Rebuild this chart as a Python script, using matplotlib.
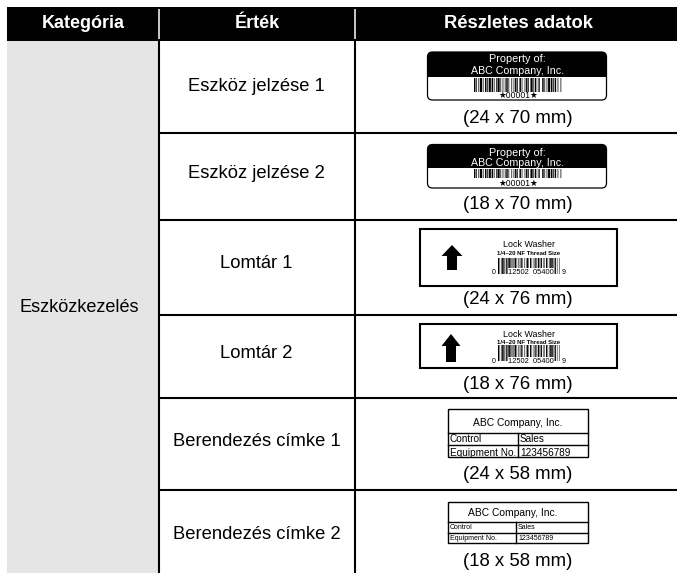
import matplotlib
matplotlib.use("Agg")
import matplotlib.pyplot as plt
from matplotlib.patches import Rectangle, FancyBboxPatch, Polygon

plt.rcParams['font.family'] = ['Liberation Sans', 'DejaVu Sans']

W, H = 677, 573
headers = ["Kategória", "Érték", "Részletes adatok"]
category = "Eszközkezelés"
values = ["Eszköz jelzése 1", "Eszköz jelzése 2", "Lomtár 1", "Lomtár 2",
          "Berendezés címke 1", "Berendezés címke 2"]
sizes = ["(24 x 70 mm)", "(18 x 70 mm)", "(24 x 76 mm)", "(18 x 76 mm)",
         "(24 x 58 mm)", "(18 x 58 mm)"]
bars_a = [2,1,1,2,1,1,3,1,1,2,2,1,1,1,3,1,2,1,1,2,1,1,3,1,1,2,1,2,1,1,2,1,1,3,1,2,1,1,2,1,
          1,2,2,1,1,3,1,1,2,1,1,2,3,1,1,1,2,2,1,1,1,3,2,1,1,2,1,1,3,1,2,1,1,1,2,2,1,3,1,1]

fig = plt.figure(figsize=(W/100, H/100), dpi=100)
ax = fig.add_axes([0, 0, 1, 1])
ax.set_xlim(0, W); ax.set_ylim(H, 0); ax.axis("off")

X0, X1, X2, X3 = 7, 159, 355, 677
rows = [41, 133, 220, 315, 398, 490, 573]

def rect(x, y, w, h, fc="k", ec="none", lw=0, z=2, snap=None):
    p = Rectangle((x, y), w, h, fc=fc, ec=ec, lw=lw, zorder=z)
    if snap is not None:
        p.set_snap(snap)
    ax.add_patch(p)
    return p

def txt(x, y, s, size, color="k", weight="normal", ha="center", z=7, **kw):
    dy = 1.5 if size >= 10 else 0.5
    ax.text(x, y + dy, s, fontsize=size, color=color, fontweight=weight, ha=ha, va="center", zorder=z, **kw)

rect(X0, 7, X3-X0, 34)
rect(X0, 41, X1-X0, H-41, fc="#e5e5e5")
for x in (X1, X2):
    ax.plot([x, x], [9, 38.5], color="w", lw=1.1, zorder=3, solid_capstyle="butt")
    ax.plot([x, x], [41, H], color="k", lw=1.5, zorder=3, solid_capstyle="butt")
for y in rows[1:-1]:
    ax.plot([X1, X3], [y, y], color="k", lw=1.5, solid_capstyle="butt", zorder=3)

txt(83, 21.5, headers[0], 13, "w", "bold")
txt(257, 21.5, headers[1], 13, "w", "bold")
txt(518, 21.5, headers[2], 13.2, "w", "bold")
txt(79, 306, category, 13.1)

value_y = [85, 172, 262, 352, 440, 533]
for y, v in zip(value_y, values):
    txt(256.5, y, v, 13.2)

size_y = [117, 203, 298, 383, 473, 560]
for y, s in zip(size_y, sizes):
    txt(518, y, s, 13.4)

def barcode(xc, y, w, h):
    u = w/sum(bars_a)
    x = xc - w/2
    for i, b in enumerate(bars_a):
        if i % 2 == 0:
            rect(x, y, b*u, h, z=6, snap=False)
        x += b*u

def prop_label(y0, y1, ybl, bar_y, bar_h, num_y, t1, t2):
    box = FancyBboxPatch((427.5, y0), 179, y1-y0, boxstyle="round,pad=0,rounding_size=5",
                         fc="w", ec="k", lw=0.9, zorder=4)
    ax.add_patch(box)
    top = rect(427, y0, 180, ybl-y0, z=5)
    top.set_clip_path(box)
    txt(517, t1, "Property of:", 7.8, "w")
    txt(518, t2, "ABC Company, Inc.", 7.7, "w")
    barcode(518, bar_y, 88, bar_h)
    txt(518, num_y, "★00001★", 6.2)

prop_label(52, 100, 77, 78, 14, 95, 59, 70)
prop_label(144.5, 188, 168, 169, 9, 183, 152, 162)

def lock_label(y0, y1, tx, t2y, bar_y, bar_h, num_y, arrow):
    ax.add_patch(Rectangle((420, y0), 196.5, y1-y0, fc="w", ec="k", lw=1.5, zorder=4))
    txt(529, tx, "Lock Washer", 6.4)
    txt(529, t2y, "1/4–20 NF Thread Size", 4.3, weight="bold")
    barcode(529, bar_y, 62, bar_h)
    txt(494, num_y, "0", 5); txt(564, num_y, "9", 5)
    txt(531, num_y, "12502  05400", 5.4,
        bbox=dict(fc="w", ec="none", pad=0.4))
    xc, top, mid, bot, hw, sw = arrow
    ax.add_patch(Polygon([(xc, top), (xc+hw, mid), (xc+sw, mid), (xc+sw, bot),
                          (xc-sw, bot), (xc-sw, mid), (xc-hw, mid)],
                         fc="k", ec="none", zorder=6))

lock_label(229, 286, 244, 253, 258, 16, 272, (452, 245, 256, 270, 10.5, 5))
lock_label(323.5, 368, 334, 342, 345, 16, 361, (451, 334, 346, 362, 9.5, 5))

def equip_label(y0, y1, y2, y3, xm, ty, fs, r1, r2):
    ax.add_patch(Rectangle((448, y0), 140, y3-y0, fc="w", ec="k", lw=1.0, zorder=4))
    ax.plot([448, 588], [y1, y1], color="k", lw=1, zorder=5)
    ax.plot([448, 588], [y2, y2], color="k", lw=1, zorder=5)
    ax.plot([xm, xm], [y1, y3], color="k", lw=1, zorder=5)
    txt(518 if fs > 6 else 512.5, ty, "ABC Company, Inc.", 7.4)
    txt(450, r1, "Control", fs, ha="left")
    txt(xm+2, r1, "Sales", fs, ha="left")
    txt(450, r2, "Equipment No.", fs, ha="left")
    txt(xm+2, r2, "123456789", fs, ha="left")

equip_label(409, 433, 444.5, 457, 518, 423, 7.2, 439, 452)
equip_label(502, 522, 532.5, 543, 516, 512, 5, 527, 538)

fig.savefig("out.png", dpi=100)
